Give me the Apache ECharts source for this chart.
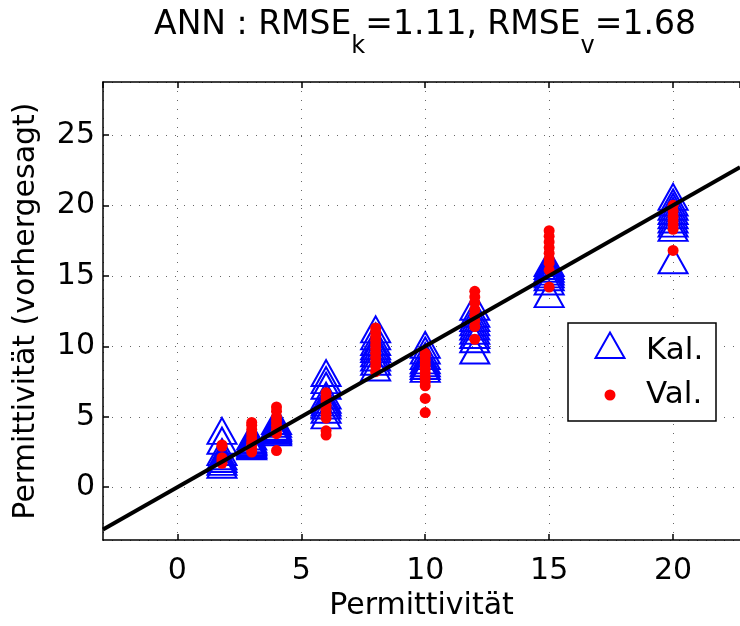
<!DOCTYPE html>
<html><head><meta charset="utf-8">
<script src="https://cdn.jsdelivr.net/npm/echarts@6/dist/echarts.min.js"></script>
<style>html,body{margin:0;padding:0;background:#fff}#c{width:740px;height:626px}</style>
</head><body><div id="c"></div>
<script>
const xLevels = [1.8, 3, 4, 6, 8, 10, 12, 15, 20];
const kalValues = [
  [4.0, 3.3, 2.5, 2.2, 2.0, 1.8, 1.6],
  [3.6, 3.4, 3.3, 3.2, 3.1, 3.0, 2.9],
  [4.7, 4.5, 4.3, 4.2, 4.1, 4.0, 3.9],
  [8.1, 7.6, 7.2, 6.5, 6.2, 6.0, 5.8, 5.5, 5.1],
  [11.2, 10.7, 10.3, 10.0, 9.8, 9.5, 9.2, 8.9, 8.5],
  [10.1, 9.7, 9.3, 9.0, 8.8, 8.6, 8.4],
  [12.8, 12.3, 12.0, 11.7, 11.4, 11.1, 10.8, 10.5, 9.7],
  [15.9, 15.7, 15.5, 15.3, 15.1, 14.9, 14.6, 13.7],
  [20.6, 20.2, 19.9, 19.6, 19.3, 19.0, 18.7, 18.4, 16.1]
];
const valValues = [
  [3.0, 2.9, 2.1, 1.9, 1.7],
  [4.6, 4.4, 4.1, 3.8, 3.5, 3.2, 3.0, 2.7, 2.5],
  [5.7, 5.4, 5.0, 4.7, 4.4, 4.1, 3.8, 2.6],
  [6.7, 6.4, 6.1, 5.8, 5.5, 5.2, 4.9, 4.0, 3.7],
  [11.3, 11.0, 10.7, 10.4, 10.1, 9.8, 9.5, 9.2, 8.9, 8.6, 8.2],
  [9.5, 9.3, 9.0, 8.7, 8.4, 8.1, 7.8, 7.5, 7.2, 6.3, 5.3],
  [13.9, 13.5, 13.1, 12.6, 12.2, 11.8, 11.4, 10.5],
  [18.2, 17.8, 17.4, 17.0, 16.6, 16.2, 15.9, 15.4, 14.2],
  [20.0, 19.6, 19.2, 18.9, 18.6, 18.3, 16.8]
];
const lineEnds = [-3, 22.7];
const xTicks = [0, 5, 10, 15, 20];
const yTicks = [0, 5, 10, 15, 20, 25];

const FONT = "'DejaVu Sans', 'Liberation Sans', Arial, sans-serif";
function pairs(vals) {
  const out = [];
  xLevels.forEach((x, i) => vals[i].forEach(v => out.push([x, v])));
  return out;
}
const kalData = pairs(kalValues);
const valData = pairs(valValues);
const lineData = lineEnds.map(v => [v, v]);

const chart = echarts.init(document.getElementById('c'), null, {renderer: 'canvas'});
const dotted = {show: true, lineStyle: {color: '#666', width: 1, type: [1, 8]}};
chart.setOption({
  animation: false,
  backgroundColor: '#fff',
  grid: {left: 103, top: 82, width: 640, height: 464},
  xAxis: [{
    type: 'value', min: -3, max: 22.7, splitNumber: 5, position: 'bottom',
    axisLine: {show: true, onZero: false, lineStyle: {color: '#000', width: 1.5}},
    axisTick: {show: true, inside: true, length: 6, lineStyle: {color: '#000', width: 1.5}},
    axisLabel: {show: true, color: '#000', fontSize: 30, fontFamily: FONT, margin: 16,
      showMinLabel: false, showMaxLabel: false,
      formatter: v => xTicks.includes(v) ? String(v) : ''},
    splitLine: dotted,
    name: 'Permittivität', nameLocation: 'middle', nameGap: 47,
    nameTextStyle: {color: '#000', fontSize: 30, fontFamily: FONT}
  }, {
    type: 'value', min: -3, max: 22.7, splitNumber: 5, position: 'top',
    axisLine: {show: true, onZero: false, lineStyle: {color: '#000', width: 1.5}},
    axisTick: {show: true, inside: true, length: 6, lineStyle: {color: '#000', width: 1.5}},
    axisLabel: {show: false}, splitLine: {show: false}
  }],
  yAxis: [{
    type: 'value', min: -3.75, max: 28.75, splitNumber: 6,
    axisLine: {show: true, onZero: false, lineStyle: {color: '#000', width: 1.5}},
    axisTick: {show: true, inside: true, length: 6, lineStyle: {color: '#000', width: 1.5}},
    axisLabel: {show: true, color: '#000', fontSize: 30, fontFamily: FONT, margin: 8,
      showMinLabel: false, showMaxLabel: false,
      formatter: v => yTicks.includes(v) ? String(v) : ''},
    splitLine: dotted,
    name: 'Permittivität (vorhergesagt)', nameLocation: 'middle', nameGap: 62,
    nameTextStyle: {color: '#000', fontSize: 30, fontFamily: FONT}
  }],
  series: [{
    name: 'Kal.', type: 'scatter', data: kalData, symbol: 'triangle', symbolSize: [29, 26],
    itemStyle: {color: 'rgba(0,0,0,0)', borderColor: '#0000ff', borderWidth: 2, opacity: 1},
    z: 2
  }, {
    name: 'Val.', type: 'scatter', data: valData, symbol: 'circle', symbolSize: 11,
    itemStyle: {color: '#ff0000', opacity: 1}, z: 3
  }, {
    name: 'fit', type: 'line', data: lineData, showSymbol: false, symbol: 'none',
    lineStyle: {color: '#000', width: 4}, z: 4
  }],
  graphic: [{
    type: 'text', x: 425, y: 9, z: 10,
    style: {
      text: '{m|ANN : RMSE}{s|k}{m|=1.11, RMSE}{s|v}{m|=1.68}',
      align: 'center', verticalAlign: 'top',
      rich: {
        m: {fontSize: 33, fontFamily: FONT, fill: '#000', lineHeight: 36, verticalAlign: 'top'},
        s: {fontSize: 24, fontFamily: FONT, fill: '#000', lineHeight: 50, verticalAlign: 'bottom'}
      }
    }
  }, {
    type: 'rect', z: 20,
    shape: {x: 568, y: 323, width: 148, height: 98},
    style: {fill: '#fff', stroke: '#000', lineWidth: 1.5}
  }, {
    type: 'polygon', z: 21,
    shape: {points: [[595.5, 358], [610, 332.5], [624.5, 358]]},
    style: {fill: 'none', stroke: '#0000ff', lineWidth: 2}
  }, {
    type: 'circle', z: 21,
    shape: {cx: 610, cy: 395, r: 5.5},
    style: {fill: '#ff0000'}
  }, {
    type: 'text', z: 21, x: 646, y: 351,
    style: {text: 'Kal.', fontSize: 31, fontFamily: FONT, fill: '#000', verticalAlign: 'middle', align: 'left'}
  }, {
    type: 'text', z: 21, x: 646, y: 395,
    style: {text: 'Val.', fontSize: 31, fontFamily: FONT, fill: '#000', verticalAlign: 'middle', align: 'left'}
  }]
});
</script>
</body></html>
